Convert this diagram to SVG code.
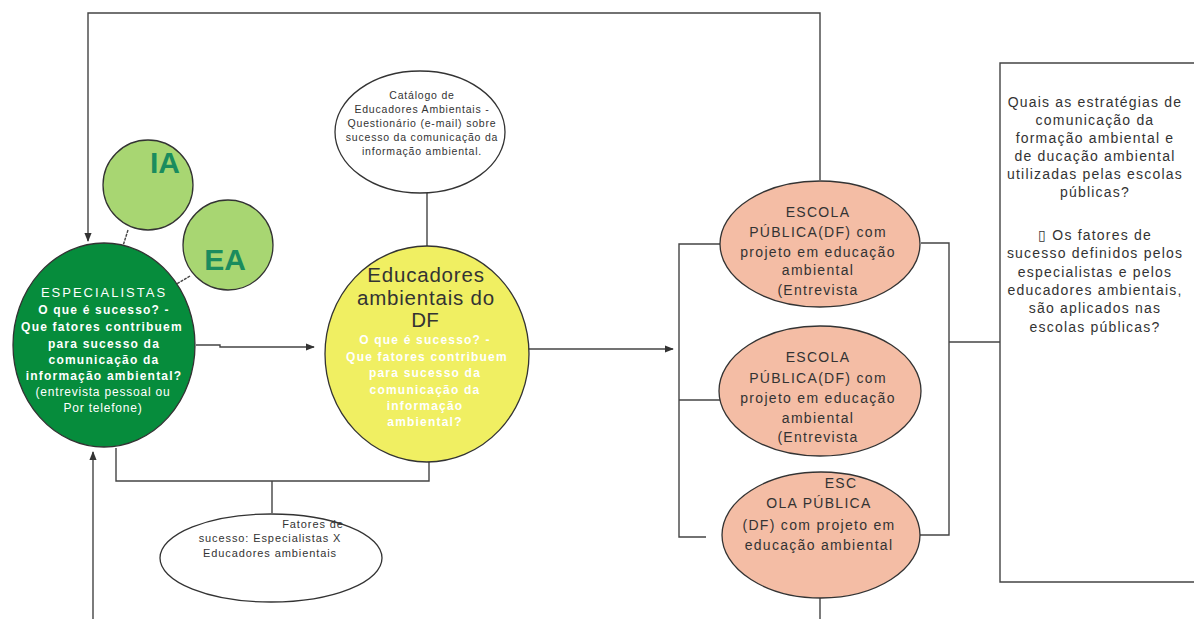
<svg xmlns="http://www.w3.org/2000/svg" width="1194" height="619" viewBox="0 0 1194 619">
<style>
.ln{fill:none;stroke:#444;stroke-width:1.4}
.el{stroke:#333;stroke-width:1.3}
.t{font-family:"Liberation Sans",Arial,sans-serif;text-anchor:middle}
.w{fill:#fff;font-weight:bold;font-size:12px;letter-spacing:1.2px}
.d{fill:#333}
.sc{font-size:14px;letter-spacing:1.3px}
.bx{font-size:14px;letter-spacing:1.2px}
</style>
<defs>
<marker id="ah" viewBox="0 0 10 10" refX="9" refY="5" markerWidth="9" markerHeight="9" markerUnits="userSpaceOnUse" orient="auto">
<path d="M0,1 L10,5 L0,9 Z" fill="#333"/>
</marker>
</defs>
<rect width="1194" height="619" fill="#fff"/>
<g id="connectors">
<path class="ln" d="M820,180 V13 H88 V241" marker-end="url(#ah)"/>
<path class="ln" d="M93,619 V452" marker-end="url(#ah)"/>
<path class="ln" d="M196,345 H220 V347 H314" marker-end="url(#ah)"/>
<path class="ln" d="M528,349 H673" marker-end="url(#ah)"/>
<path class="ln" d="M116,448 V481 H429 V462"/>
<path class="ln" d="M272,481 V513"/>
<path class="ln" d="M427,193 V246"/>
<path class="ln" d="M720,244 H679 V537 H706"/>
<path class="ln" d="M679,400 H720"/>
<path class="ln" d="M921,243 H949 V535 H920"/>
<path class="ln" d="M949,342 H1000"/>
<path class="ln" d="M820,598 V619"/>
<path class="ln" d="M128,230 L122,249" stroke-dasharray="3 1"/>
<path class="ln" d="M190,276 L165,291" stroke-dasharray="3 1"/>
</g>
<g id="ia">
<circle class="el" cx="148" cy="185" r="45" fill="#a8d672"/>
<text class="t" x="165" y="173" font-size="30" font-weight="bold" fill="#1a8c5e">IA</text>
</g>
<g id="ea">
<circle class="el" cx="228" cy="245" r="45" fill="#a8d672"/>
<text class="t" x="225" y="270" font-size="30" font-weight="bold" fill="#1a8c5e">EA</text>
</g>
<g id="especialistas">
<ellipse class="el" cx="104" cy="345" rx="91" ry="102" fill="#068c3c"/>
<text class="t" fill="#fff" font-size="13" letter-spacing="2" x="104" y="297">ESPECIALISTAS</text>
<text class="t w" x="104" y="314">O que é sucesso? -</text>
<text class="t w" x="102" y="331">Que fatores contribuem</text>
<text class="t w" x="104" y="348">para sucesso da</text>
<text class="t w" x="104" y="364">comunicação da</text>
<text class="t w" x="104" y="380">informação ambiental?</text>
<text class="t" fill="#fff" font-size="12" letter-spacing="0.8" x="103" y="396">(entrevista pessoal ou</text>
<text class="t" fill="#fff" font-size="12" letter-spacing="0.8" x="103" y="412">Por telefone)</text>
</g>
<g id="educadores">
<ellipse class="el" cx="427" cy="354" rx="102" ry="108" fill="#f0ef62"/>
<text class="t" fill="#333" font-size="20.5" letter-spacing="0.8" x="426" y="282">Educadores</text>
<text class="t" fill="#333" font-size="20.5" letter-spacing="0.8" x="426" y="305">ambientais do</text>
<text class="t" fill="#333" font-size="20.5" x="425" y="327">DF</text>
<text class="t w" x="425" y="344">O que é sucesso? -</text>
<text class="t w" x="427" y="361">Que fatores contribuem</text>
<text class="t w" x="425" y="377">para sucesso da</text>
<text class="t w" x="425" y="394">comunicação da</text>
<text class="t w" x="425" y="410">informação</text>
<text class="t w" x="425" y="426">ambiental?</text>
</g>
<g id="catalogo">
<ellipse class="el" cx="420" cy="132" rx="85" ry="61" fill="#fff"/>
<g class="t d" font-size="10.5" letter-spacing="0.8">
<text x="422" y="99">Catálogo de</text>
<text x="422" y="113">Educadores Ambientais -</text>
<text x="422" y="127">Questionário (e-mail) sobre</text>
<text x="422" y="141">sucesso da comunicação da</text>
<text x="422" y="155">informação ambiental.</text>
</g>
</g>
<g id="fatores">
<ellipse class="el" cx="271" cy="558" rx="111" ry="44" fill="#fff"/>
<g class="t d" font-size="11" letter-spacing="0.9">
<text x="313" y="528">Fatores de</text>
<text x="270" y="542">sucesso: Especialistas X</text>
<text x="270" y="557">Educadores ambientais</text>
</g>
</g>
<g id="escola1">
<ellipse class="el" cx="820" cy="244" rx="100" ry="63" fill="#f4bda5"/>
<g class="t d sc">
<text x="818" y="217">ESCOLA</text>
<text x="818" y="237">PÚBLICA(DF) com</text>
<text x="818" y="257">projeto em educação</text>
<text x="818" y="275">ambiental</text>
<text x="818" y="295">(Entrevista</text>
</g>
</g>
<g id="escola2">
<ellipse class="el" cx="820" cy="391" rx="101" ry="65" fill="#f4bda5"/>
<g class="t d sc">
<text x="818" y="362">ESCOLA</text>
<text x="818" y="383">PÚBLICA(DF) com</text>
<text x="818" y="403">projeto em educação</text>
<text x="818" y="423">ambiental</text>
<text x="818" y="442">(Entrevista</text>
</g>
</g>
<g id="escola3">
<ellipse class="el" cx="821" cy="535" rx="99" ry="63" fill="#f4bda5"/>
<g class="t d sc">
<text x="841" y="488">ESC</text>
<text x="819" y="508">OLA PÚBLICA</text>
<text x="819" y="530">(DF) com projeto em</text>
<text x="819" y="550">educação ambiental</text>
</g>
</g>
<g id="questoes">
<path d="M1194,63 H1000 V582 H1194" fill="#fff" stroke="#444" stroke-width="1.4"/>
<g class="t d bx">
<text x="1095" y="107">Quais as estratégias de</text>
<text x="1095" y="125">comunicação da</text>
<text x="1095" y="143">formação ambiental e</text>
<text x="1095" y="161">de ducação ambiental</text>
<text x="1095" y="179">utilizadas pelas escolas</text>
<text x="1095" y="197">públicas?</text>
<text x="1095" y="240">▯  Os fatores de</text>
<text x="1095" y="258">sucesso definidos pelos</text>
<text x="1095" y="277">especialistas e  pelos</text>
<text x="1095" y="295">educadores ambientais,</text>
<text x="1095" y="313">são aplicados nas</text>
<text x="1095" y="332">escolas públicas?</text>
</g>
</g>
</svg>
